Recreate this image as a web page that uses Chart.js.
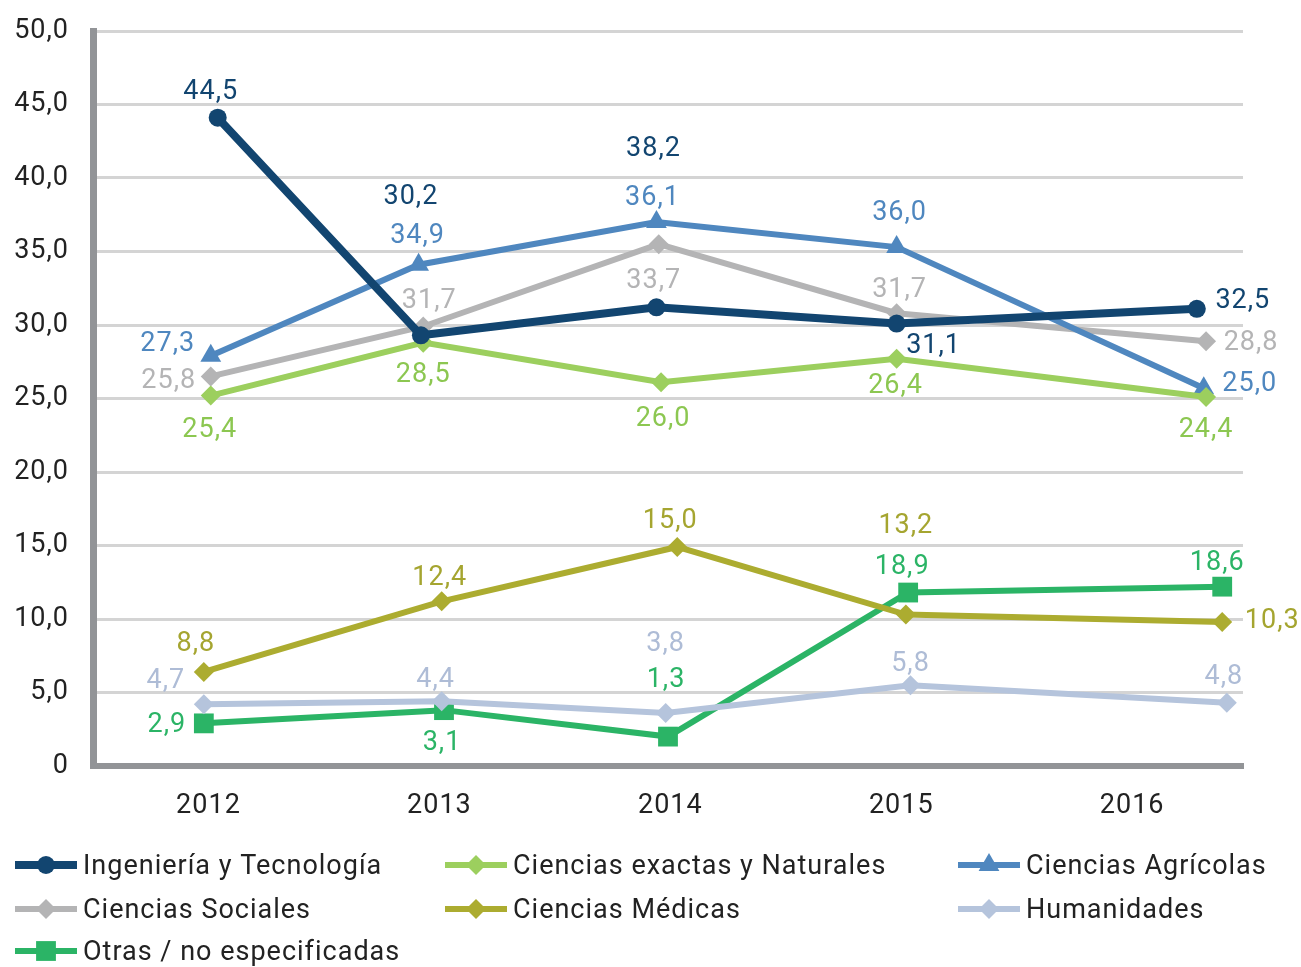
<!DOCTYPE html>
<html>
<head>
<meta charset="utf-8">
<script src="https://cdn.jsdelivr.net/npm/chart.js@4.4.1/dist/chart.umd.min.js"></script>
<style>
  html, body { margin: 0; padding: 0; background: #fff; }
  #chart { display: block; }
</style>
</head>
<body>
<canvas id="chart" width="1301" height="967"></canvas>
<script>
// values (years are where each point sits on the x axis)
const yearTicks = [2012, 2013, 2014, 2015, 2016];

const seriesNames = [
    'Ingeniería y Tecnología',
    'Ciencias exactas y Naturales',
    'Ciencias Agrícolas',
    'Ciencias Sociales',
    'Ciencias Médicas',
    'Humanidades',
    'Otras / no especificadas'
];

const xIngenieria = [2012.04, 2012.92, 2013.94, 2014.98, 2016.28];
const yIngenieria = [44.1, 29.3, 31.2, 30.1, 31.1];
const tIngenieria = ['44,5', '30,2', '38,2', '31,1', '32,5'];

const xExactas = [2012.01, 2012.93, 2013.96, 2014.98, 2016.32];
const yExactas = [25.2, 28.8, 26.1, 27.7, 25.1];
const tExactas = ['25,4', '28,5', '26,0', '26,4', '24,4'];

const xAgricolas = [2012.01, 2012.91, 2013.94, 2014.98, 2016.31];
const yAgricolas = [27.9, 34.1, 37.0, 35.3, 25.7];
const tAgricolas = ['27,3', '34,9', '36,1', '36,0', '25,0'];

const xSociales = [2012.01, 2012.93, 2013.95, 2014.98, 2016.32];
const ySociales = [26.5, 29.9, 35.5, 30.8, 28.9];
const tSociales = ['25,8', '31,7', '33,7', '31,7', '28,8'];

const xMedicas = [2011.98, 2013.01, 2014.03, 2015.02, 2016.39];
const yMedicas = [6.4, 11.2, 14.9, 10.3, 9.8];
const tMedicas = ['8,8', '12,4', '15,0', '13,2', '10,3'];

const xHumanidades = [2011.98, 2013.01, 2013.98, 2015.04, 2016.41];
const yHumanidades = [4.2, 4.4, 3.6, 5.5, 4.3];
const tHumanidades = ['4,7', '4,4', '3,8', '5,8', '4,8'];

const xOtras = [2011.98, 2013.02, 2013.99, 2015.03, 2016.39];
const yOtras = [2.9, 3.8, 2.0, 11.8, 12.2];
const tOtras = ['2,9', '3,1', '1,3', '18,9', '18,6'];

// styling
const colors = ['#124570', '#9ccf5e', '#4f87bf', '#b4b4b5', '#acac30', '#b5c4dc', '#2bb466'];
const labelColors = ['#124570', '#8cc751', '#4f87bf', '#b4b4b5', '#a5a530', '#aebcd6', '#2bb466'];
const markers = ['circle', 'rectRot', 'triangle', 'rectRot', 'rectRot', 'rectRot', 'rect'];
const markerSizes = [9, 10, 12, 10, 10, 10, 14];
const lineWidths = [8, 6, 6, 6, 6, 6, 6];

// pixel nudges of each value label from its point
const labelOffsets = [
    [[-7, -28], [-10, -141], [-3, -161], [37, 20], [46, -11]],
    [[-1, 32], [0, 30], [2, 34], [-1, 24], [0, 30]],
    [[-43, -15], [-1, -31], [-4, -27], [3, -37], [46, -7]],
    [[-42, 2], [6, -28], [-5, 34], [3, -26], [45, -1]],
    [[-8, -31], [-2, -26], [-7, -29], [0, -91], [50, -4]],
    [[-38, -26], [-6, -24], [0, -72], [0, -24], [-3, -29]],
    [[-37, -1], [-2, 30], [-2, -59], [-6, -28], [-5, -26]]
];

const xs = [xIngenieria, xExactas, xAgricolas, xSociales, xMedicas, xHumanidades, xOtras];
const ys = [yIngenieria, yExactas, yAgricolas, ySociales, yMedicas, yHumanidades, yOtras];
const texts = [tIngenieria, tExactas, tAgricolas, tSociales, tMedicas, tHumanidades, tOtras];

const FONT = 'Roboto, "DejaVu Sans", sans-serif';

function fmt(v) {
    return v === 0 ? '0' : v.toFixed(1).replace('.', ',');
}

const datasets = seriesNames.map(function (name, i) {
    return {
        label: name,
        data: xs[i].map((x, j) => ({ x: x, y: ys[i][j] })),
        borderColor: colors[i],
        backgroundColor: colors[i],
        borderWidth: lineWidths[i],
        pointStyle: markers[i],
        pointRadius: markerSizes[i],
        pointBorderWidth: 0,
        pointBackgroundColor: colors[i],
        tension: 0,
        fill: false
    };
});

// the original font is a wide-spaced DIN, so spread the letters a little
const spacing = {
    id: 'spacing',
    beforeDraw(chart) {
        chart.ctx.letterSpacing = '1px';
    }
};

const valueLabels = {
    id: 'valueLabels',
    afterDatasetsDraw(chart) {
        const ctx = chart.ctx;
        ctx.save();
        ctx.letterSpacing = '1px';
        ctx.font = '27px ' + FONT;
        ctx.textAlign = 'center';
        ctx.textBaseline = 'middle';
        chart.data.datasets.forEach(function (ds, i) {
            const meta = chart.getDatasetMeta(i);
            ctx.fillStyle = labelColors[i];
            meta.data.forEach(function (pt, j) {
                const off = labelOffsets[i][j];
                // +3: roboto's middle sits a bit high compared to the original
                ctx.fillText(texts[i][j], pt.x + off[0], pt.y + off[1] + 3);
            });
        });
        ctx.restore();
    }
};

// legend drawn by hand: line + marker + name, three columns
const legendCols = [15, 445, 958];
const legendRows = [865, 909, 951];
const legendLine = 62;

const drawnLegend = {
    id: 'drawnLegend',
    afterDraw(chart) {
        const ctx = chart.ctx;
        ctx.save();
        ctx.letterSpacing = '1px';
        ctx.font = '27px ' + FONT;
        ctx.textBaseline = 'middle';
        ctx.textAlign = 'left';
        seriesNames.forEach(function (name, i) {
            const x = legendCols[i % 3];
            const y = legendRows[Math.floor(i / 3)];
            ctx.strokeStyle = colors[i];
            ctx.lineWidth = lineWidths[i];
            ctx.beginPath();
            ctx.moveTo(x, y);
            ctx.lineTo(x + legendLine, y);
            ctx.stroke();
            ctx.fillStyle = colors[i];
            Chart.helpers.drawPoint(ctx, {
                pointStyle: markers[i],
                radius: markerSizes[i],
                rotation: 0,
                borderWidth: 0
            }, x + legendLine / 2, y);
            ctx.fillStyle = '#222';
            ctx.fillText(name, x + legendLine + 6, y + 2);
        });
        ctx.restore();
    }
};

new Chart(document.getElementById('chart'), {
    type: 'line',
    data: { datasets: datasets },
    options: {
        responsive: false,
        animation: false,
        layout: { padding: { left: 0, right: 58, top: 31, bottom: 131 } },
        plugins: {
            legend: { display: false },
            tooltip: { enabled: false }
        },
        scales: {
            x: {
                type: 'linear',
                min: 2011.5,
                max: 2016.48,
                afterBuildTicks(scale) {
                    scale.ticks = yearTicks.map(v => ({ value: v }));
                },
                afterFit(scale) { scale.height = 70; },
                grid: { display: false, drawTicks: false },
                border: { color: '#929497', width: 6 },
                ticks: {
                    padding: 24,
                    color: '#222',
                    font: { family: FONT, size: 27 },
                    callback: v => String(v)
                }
            },
            y: {
                min: 0,
                max: 50,
                afterFit(scale) {
                    scale.width = 93;
                    scale.paddingTop = 0;
                    scale.paddingBottom = 0;
                },
                grid: { color: '#d4d4d4', lineWidth: 3, drawTicks: false },
                border: { color: '#929497', width: 7 },
                ticks: {
                    stepSize: 5,
                    padding: 24,
                    color: '#222',
                    font: { family: FONT, size: 27 },
                    callback: v => fmt(v)
                }
            }
        }
    },
    plugins: [spacing, valueLabels, drawnLegend]
});
</script>
</body>
</html>
